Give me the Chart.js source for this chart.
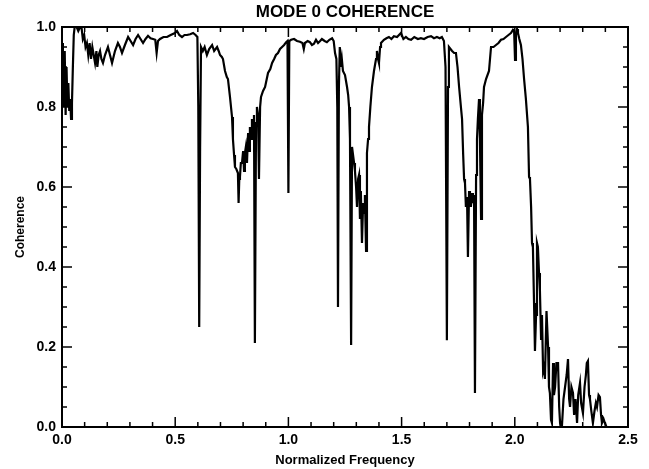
<!DOCTYPE html>
<html>
<head>
<meta charset="utf-8">
<title>Mode 0 Coherence</title>
<script src="https://cdn.jsdelivr.net/npm/chart.js@4.4.0/dist/chart.umd.min.js"></script>
<style>
  html, body { margin: 0; padding: 0; background: #fff; }
</style>
</head>
<body>
<canvas id="chart" width="649" height="469"></canvas>
<script>
// values
var freq = [
    0.000, 0.004, 0.008, 0.012, 0.016, 0.020, 0.024, 0.028, 0.032, 0.036, 0.040, 0.044, 0.048, 0.052, 0.056, 0.065,
    0.072, 0.080, 0.086, 0.092, 0.098, 0.104, 0.110, 0.116, 0.122, 0.128, 0.134, 0.140, 0.146, 0.152, 0.156, 0.162,
    0.168, 0.174, 0.181, 0.190, 0.203, 0.212, 0.221, 0.234, 0.247, 0.256, 0.265, 0.278, 0.292, 0.303, 0.314, 0.325,
    0.336, 0.347, 0.358, 0.369, 0.380, 0.391, 0.402, 0.412, 0.418, 0.424, 0.433, 0.448, 0.464, 0.480, 0.499, 0.508,
    0.518, 0.530, 0.541, 0.552, 0.566, 0.579, 0.590, 0.598, 0.602, 0.606, 0.610, 0.614, 0.622, 0.630, 0.640, 0.650,
    0.663, 0.672, 0.685, 0.692, 0.698, 0.706, 0.711, 0.720, 0.728, 0.733, 0.742, 0.751, 0.755, 0.760, 0.764, 0.770,
    0.777, 0.780, 0.783, 0.786, 0.790, 0.795, 0.800, 0.804, 0.808, 0.812, 0.817, 0.822, 0.826, 0.830, 0.835, 0.839,
    0.844, 0.848, 0.852, 0.857, 0.861, 0.866, 0.870, 0.875, 0.879, 0.888, 0.897, 0.910, 0.920, 0.928, 0.937, 0.945,
    0.954, 0.963, 0.972, 0.981, 0.990, 0.996, 1.000, 1.004, 1.012, 1.025, 1.038, 1.051, 1.062, 1.068, 1.073, 1.085,
    1.095, 1.104, 1.113, 1.122, 1.131, 1.140, 1.148, 1.160, 1.170, 1.181, 1.193, 1.200, 1.206, 1.212, 1.216, 1.219,
    1.223, 1.227, 1.232, 1.236, 1.241, 1.250, 1.259, 1.264, 1.268, 1.272, 1.277, 1.281, 1.285, 1.290, 1.294, 1.299,
    1.303, 1.308, 1.312, 1.316, 1.320, 1.325, 1.330, 1.334, 1.338, 1.343, 1.347, 1.352, 1.356, 1.362, 1.369, 1.378,
    1.387, 1.391, 1.396, 1.400, 1.405, 1.409, 1.422, 1.433, 1.444, 1.455, 1.466, 1.480, 1.497, 1.508, 1.519, 1.530,
    1.542, 1.556, 1.572, 1.585, 1.599, 1.615, 1.630, 1.643, 1.656, 1.668, 1.678, 1.687, 1.694, 1.700, 1.705, 1.709,
    1.716, 1.723, 1.732, 1.740, 1.747, 1.754, 1.762, 1.767, 1.772, 1.776, 1.780, 1.784, 1.789, 1.793, 1.798, 1.802,
    1.806, 1.811, 1.815, 1.820, 1.824, 1.829, 1.833, 1.837, 1.842, 1.846, 1.851, 1.855, 1.860, 1.864, 1.873, 1.886,
    1.895, 1.906, 1.917, 1.928, 1.939, 1.950, 1.961, 1.972, 1.983, 1.992, 1.997, 2.001, 2.005, 2.010, 2.014, 2.020,
    2.027, 2.034, 2.041, 2.049, 2.058, 2.063, 2.067, 2.072, 2.076, 2.080, 2.085, 2.089, 2.094, 2.098, 2.102, 2.107,
    2.111, 2.116, 2.120, 2.125, 2.129, 2.133, 2.140, 2.147, 2.151, 2.155, 2.160, 2.164, 2.169, 2.173, 2.178, 2.184,
    2.191, 2.196, 2.200, 2.208, 2.215, 2.222, 2.229, 2.235, 2.240, 2.244, 2.250, 2.257, 2.262, 2.268, 2.275, 2.280,
    2.288, 2.293, 2.301, 2.308, 2.314, 2.318, 2.323, 2.328, 2.332, 2.338, 2.345, 2.352, 2.358, 2.363, 2.370, 2.376,
    2.381, 2.385, 2.392, 2.398, 2.405, 2.410
];
var coherence = [
    0.96, 0.93, 0.80, 0.94, 0.78, 0.90, 0.80, 0.86, 0.79, 0.82, 0.77, 0.81, 0.90, 0.98, 1.00, 1.00,
    0.99, 1.00, 1.00, 0.97, 0.98, 0.95, 0.96, 0.93, 0.96, 0.92, 0.95, 0.93, 0.91, 0.94, 0.90, 0.93,
    0.94, 0.92, 0.91, 0.93, 0.95, 0.93, 0.91, 0.94, 0.96, 0.95, 0.935, 0.955, 0.975, 0.965, 0.955, 0.97,
    0.98, 0.97, 0.96, 0.97, 0.978, 0.972, 0.97, 0.968, 0.935, 0.965, 0.97, 0.975, 0.975, 0.98, 0.985, 0.99,
    0.98, 0.975, 0.98, 0.98, 0.982, 0.985, 0.98, 0.975, 0.80, 0.25, 0.70, 0.95, 0.94, 0.95, 0.93, 0.945,
    0.955, 0.94, 0.95, 0.94, 0.93, 0.925, 0.92, 0.89, 0.875, 0.87, 0.825, 0.775, 0.72, 0.68, 0.65, 0.645,
    0.635, 0.56, 0.62, 0.625, 0.66, 0.66, 0.69, 0.64, 0.685, 0.70, 0.66, 0.735, 0.69, 0.75, 0.72, 0.77,
    0.74, 0.78, 0.21, 0.76, 0.80, 0.78, 0.62, 0.80, 0.825, 0.84, 0.85, 0.885, 0.895, 0.91, 0.92, 0.93,
    0.935, 0.945, 0.95, 0.955, 0.962, 0.965, 0.585, 0.965, 0.968, 0.97, 0.965, 0.963, 0.96, 0.945, 0.96, 0.965,
    0.962, 0.955, 0.958, 0.968, 0.96, 0.965, 0.97, 0.965, 0.962, 0.968, 0.972, 0.965, 0.935, 0.92, 0.80, 0.30,
    0.85, 0.95, 0.90, 0.92, 0.89, 0.88, 0.85, 0.83, 0.80, 0.72, 0.205, 0.70, 0.70, 0.66, 0.64, 0.60,
    0.55, 0.62, 0.63, 0.52, 0.59, 0.46, 0.56, 0.535, 0.58, 0.44, 0.685, 0.72, 0.75, 0.80, 0.85, 0.89,
    0.92, 0.94, 0.92, 0.91, 0.95, 0.96, 0.968, 0.972, 0.975, 0.97, 0.977, 0.975, 0.985, 0.97, 0.975, 0.97,
    0.968, 0.975, 0.97, 0.972, 0.97, 0.975, 0.977, 0.972, 0.975, 0.972, 0.975, 0.965, 0.90, 0.217, 0.85, 0.95,
    0.945, 0.94, 0.935, 0.935, 0.90, 0.85, 0.80, 0.77, 0.68, 0.62, 0.61, 0.55, 0.575, 0.425, 0.59, 0.57,
    0.55, 0.585, 0.56, 0.58, 0.085, 0.63, 0.72, 0.77, 0.82, 0.72, 0.52, 0.78, 0.81, 0.85, 0.87, 0.89,
    0.95, 0.95, 0.955, 0.96, 0.968, 0.97, 0.975, 0.98, 0.985, 0.993, 0.99, 0.918, 0.98, 0.995, 0.985, 0.97,
    0.955, 0.92, 0.87, 0.82, 0.75, 0.625, 0.62, 0.55, 0.46, 0.45, 0.31, 0.19, 0.28, 0.46, 0.45, 0.385,
    0.34, 0.22, 0.28, 0.14, 0.15, 0.12, 0.29, 0.20, 0.10, 0.085, 0.018, 0.01, 0.16, 0.08, 0.10, 0.16,
    0.16, 0.05, 0.01, 0.0, 0.07, 0.10, 0.13, 0.17, 0.07, 0.05, 0.10, 0.085, 0.03, 0.07, 0.01, 0.08,
    0.11, 0.06, 0.035, 0.10, 0.13, 0.16, 0.165, 0.08, 0.07, 0.04, 0.01, 0.04, 0.06, 0.05, 0.08, 0.075,
    0.03, 0.01, 0.02, 0.01, 0.0, 0.0
];
var xTicks = [0.0, 0.5, 1.0, 1.5, 2.0, 2.5];
var yTicks = [0.0, 0.2, 0.4, 0.6, 0.8, 1.0];
var xMinorStep = 0.1;
var yMinorStep = 0.05;

var points = freq.map(function (f, i) {
    return { x: f, y: coherence[i] };
});

// IDL style frame: box on all four sides with ticks pointing inward
var frame = {
    id: 'frame',
    afterDatasetsDraw: function (chart) {
        var ctx = chart.ctx;
        var a = chart.chartArea;
        var xs = chart.scales.x;
        var ys = chart.scales.y;
        var i, v, p, len;
        ctx.save();
        ctx.strokeStyle = '#000';
        ctx.lineWidth = 2;
        ctx.strokeRect(a.left, a.top, a.right - a.left, a.bottom - a.top);
        ctx.lineWidth = 1.5;
        ctx.beginPath();
        for (i = 0; i <= Math.round(xTicks[xTicks.length - 1] / xMinorStep); i++) {
            v = i * xMinorStep;
            p = xs.getPixelForValue(v);
            len = (i % 5 === 0) ? 10 : 5;
            ctx.moveTo(p, a.bottom);
            ctx.lineTo(p, a.bottom - len);
            ctx.moveTo(p, a.top);
            ctx.lineTo(p, a.top + len);
        }
        for (i = 0; i <= Math.round(yTicks[yTicks.length - 1] / yMinorStep); i++) {
            v = i * yMinorStep;
            p = ys.getPixelForValue(v);
            len = (i % 4 === 0) ? 10 : 5;
            ctx.moveTo(a.left, p);
            ctx.lineTo(a.left + len, p);
            ctx.moveTo(a.right, p);
            ctx.lineTo(a.right - len, p);
        }
        ctx.stroke();
        ctx.restore();
    }
};

var tickFont = { family: 'Liberation Sans', size: 14, weight: 'bold' };

var canvas = document.getElementById('chart').getContext('2d');
window.line = new Chart(canvas, {
    type: 'line',
    data: {
        datasets: [{
            data: points,
            borderColor: '#000',
            borderWidth: 2.2,
            pointRadius: 0,
            tension: 0,
            fill: false
        }]
    },
    options: {
        responsive: false,
        animation: false,
        layout: {
            padding: { left: 0, right: 21, top: 0, bottom: 0 }
        },
        plugins: {
            legend: { display: false },
            tooltip: { enabled: false },
            title: {
                display: true,
                fullSize: false,
                text: 'MODE 0 COHERENCE',
                color: '#000',
                font: { family: 'Liberation Sans', size: 17, weight: 'bold', lineHeight: 1.2 },
                padding: { top: 2, bottom: 4.6 }
            }
        },
        scales: {
            x: {
                type: 'linear',
                min: 0,
                max: 2.5,
                afterBuildTicks: function (scale) {
                    scale.ticks = xTicks.map(function (v) { return { value: v }; });
                },
                afterFit: function (scale) { scale.height = 42; },
                ticks: {
                    color: '#000',
                    font: tickFont,
                    padding: 5,
                    maxRotation: 0,
                    callback: function (v) { return Number(v).toFixed(1); }
                },
                grid: { display: false, drawTicks: false },
                border: { display: false },
                title: {
                    display: true,
                    text: 'Normalized Frequency',
                    color: '#000',
                    font: { family: 'Liberation Sans', size: 13, weight: 'bold' },
                    padding: { top: 0, bottom: 1 }
                }
            },
            y: {
                min: 0,
                max: 1,
                afterBuildTicks: function (scale) {
                    scale.ticks = yTicks.map(function (v) { return { value: v }; });
                },
                afterFit: function (scale) { scale.width = 62; },
                ticks: {
                    color: '#000',
                    font: tickFont,
                    padding: 6,
                    callback: function (v) { return Number(v).toFixed(1); }
                },
                grid: { display: false, drawTicks: false },
                border: { display: false },
                title: {
                    display: true,
                    text: 'Coherence',
                    color: '#000',
                    font: { family: 'Liberation Sans', size: 12, weight: 'bold' },
                    padding: { top: 13, bottom: 0 }
                }
            }
        }
    },
    plugins: [frame]
});
</script>
</body>
</html>
